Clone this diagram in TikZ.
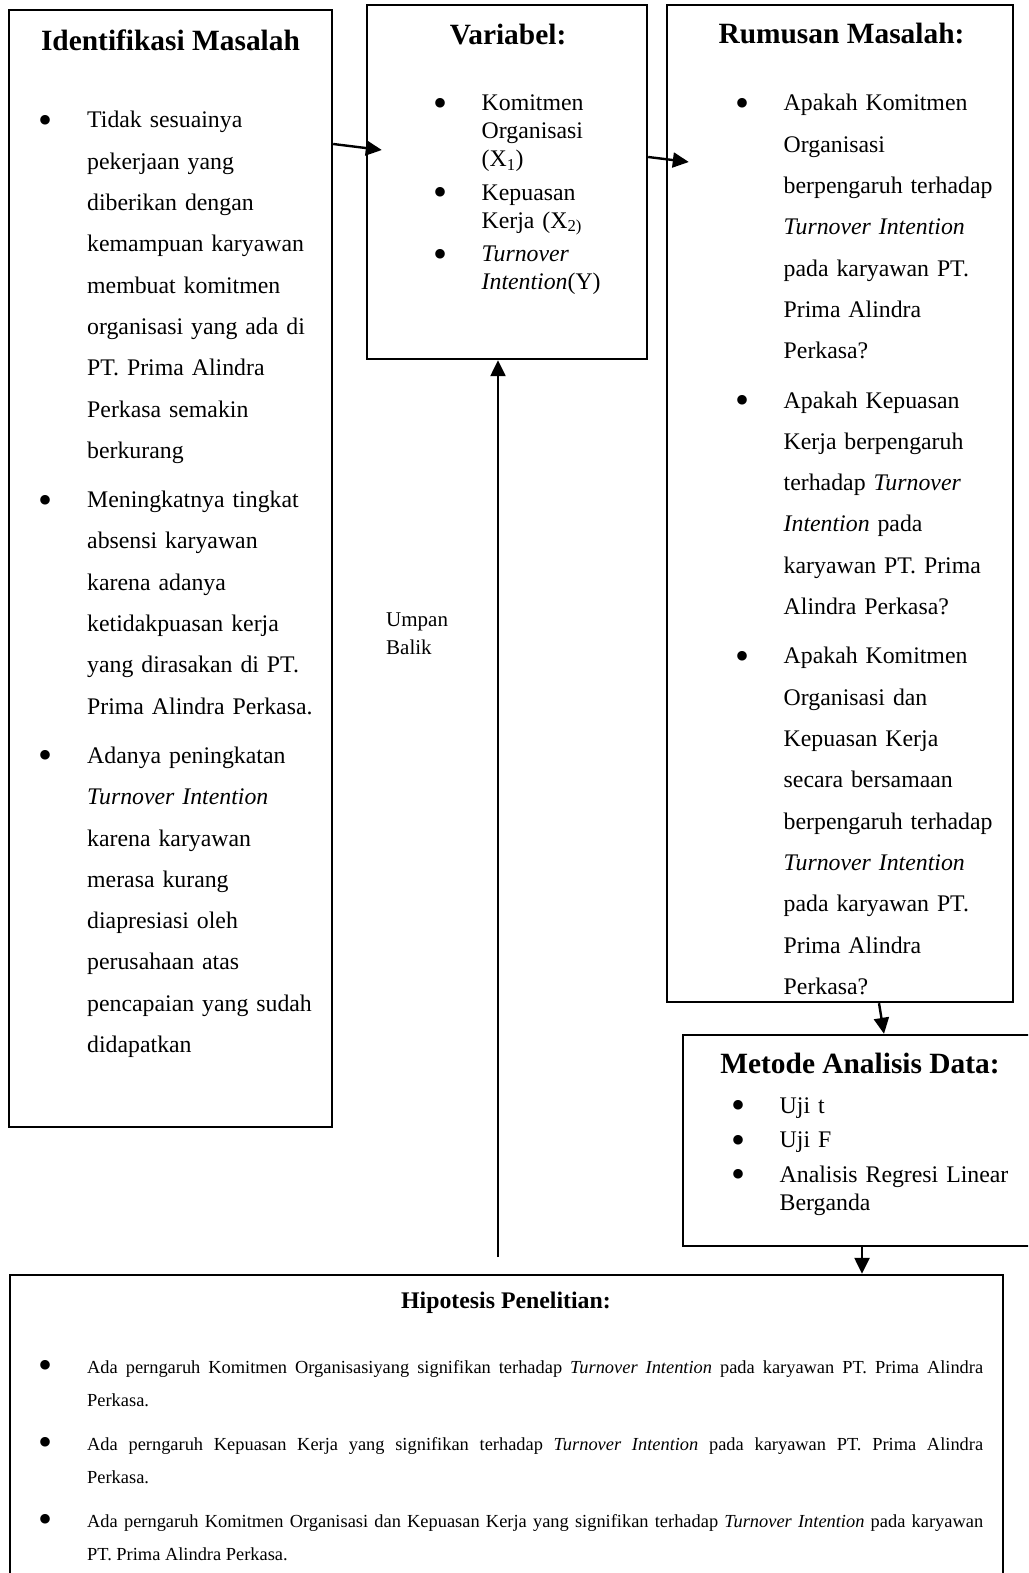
\documentclass[tikz,border=0pt]{standalone}
\usepackage{fontspec}
\setmainfont{Liberation Serif}
\usetikzlibrary{arrows.meta,calc,fit}

\newcommand{\bul}{\raisebox{-5.5pt}{\fontsize{40}{40}\selectfont\textbullet}}
\newcommand{\butir}[2]{\noindent\hangindent=#1\hangafter=1\makebox[#1][l]{\bul}\ignorespaces#2\par}

\tikzset{
  kotak/.style={draw,line width=2.4pt,inner sep=0pt},
  judul/.style={anchor=base,inner sep=0pt,font=\fontsize{29.4}{35}\selectfont\bfseries},
  daftar/.style={anchor=base west,inner sep=0pt,text width=#1,align=left},
  panah/.style={line width=2.4pt,->},
}

\begin{document}
\begin{tikzpicture}[x=1pt,y=-1pt,>={Triangle[length=16pt,width=15pt]}]
\clip (0,0) rectangle (1028,1573);

% judul
\node[judul] (judulidentifikasi) at (170.5,51) {Identifikasi Masalah};
\node[judul] (judulvariabel) at (508,45) {Variabel:};
\node[judul] (judulrumusan) at (841.5,44) {Rumusan Masalah:};
\node[judul] (judulmetode) at (860,1073) {Metode Analisis Data:};
\node[judul,font=\fontsize{23.8}{28}\selectfont\bfseries] (judulhipotesis) at (506,1308) {Hipotesis Penelitian:};

% isi
\node[daftar=300pt,font=\fontsize{23.8}{41.3}\selectfont] (isiidentifikasi) at (38.5,128) {\setlength\parskip{8pt}%
\butir{48.5pt}{Tidak sesuainya\newline pekerjaan yang\newline diberikan dengan\newline kemampuan karyawan\newline membuat komitmen\newline organisasi yang ada di\newline PT. Prima Alindra\newline Perkasa semakin\newline berkurang}
\butir{48.5pt}{Meningkatnya tingkat\newline absensi karyawan\newline karena adanya\newline ketidakpuasan kerja\newline yang dirasakan di PT.\newline Prima Alindra Perkasa.}
\butir{48.5pt}{Adanya peningkatan\newline \textit{Turnover Intention}\newline karena karyawan\newline merasa kurang\newline diapresiasi oleh\newline perusahaan atas\newline pencapaian yang sudah\newline didapatkan}};

\node[daftar=200pt,font=\fontsize{23.8}{27.8}\selectfont] (isivariabel) at (433.5,111) {\setlength\parskip{6pt}%
\butir{48pt}{Komitmen\newline Organisasi\newline (X\textsubscript{1})}
\butir{48pt}{Kepuasan\newline Kerja (X\textsubscript{2)}}
\butir{48pt}{\textit{Turnover}\newline \textit{Intention}(Y)}};

\node[daftar=280pt,font=\fontsize{23.8}{41.3}\selectfont] (isirumusan) at (735.5,111) {\setlength\parskip{8pt}%
\butir{48pt}{Apakah Komitmen\newline Organisasi\newline berpengaruh terhadap\newline \textit{Turnover Intention}\newline pada karyawan PT.\newline Prima Alindra\newline Perkasa?}
\butir{48pt}{Apakah Kepuasan\newline Kerja berpengaruh\newline terhadap \textit{Turnover}\newline \textit{Intention} pada\newline karyawan PT. Prima\newline Alindra Perkasa?}
\butir{48pt}{Apakah Komitmen\newline Organisasi dan\newline Kepuasan Kerja\newline secara bersamaan\newline berpengaruh terhadap\newline \textit{Turnover Intention}\newline pada karyawan PT.\newline Prima Alindra\newline Perkasa?}};

\node[daftar=290pt,font=\fontsize{23.8}{28}\selectfont] (isimetode) at (731,1113) {\setlength\parskip{6.5pt}%
\butir{48.5pt}{Uji t}
\butir{48.5pt}{Uji F}
\butir{48.5pt}{Analisis Regresi Linear\newline Berganda}};

\node[daftar=944.5pt,align=justify,font=\fontsize{18.4}{33}\selectfont] (isihipotesis) at (38.5,1373) {\setlength\parskip{11pt}%
\butir{48.5pt}{Ada perngaruh Komitmen Organisasiyang signifikan terhadap \textit{Turnover Intention} pada karyawan PT. Prima Alindra\linebreak Perkasa.}
\butir{48.5pt}{Ada perngaruh Kepuasan Kerja yang signifikan terhadap \textit{Turnover Intention} pada karyawan PT. Prima Alindra\linebreak Perkasa.}
\butir{48.5pt}{Ada perngaruh Komitmen Organisasi dan Kepuasan Kerja yang signifikan terhadap \textit{Turnover Intention} pada karyawan\linebreak PT. Prima Alindra Perkasa.}};

\node[daftar=90pt,font=\fontsize{21}{28}\selectfont] (umpan) at (386,626) {Umpan\newline Balik};

% kotak
\node[kotak,fit={(9,10) (332,1127)}] (identifikasi) {};
\node[kotak,fit={(367,5) (647,359)}] (variabel) {};
\node[kotak,fit={(667,5) (1013,1002)}] (rumusan) {};
\node[kotak,fit={(683,1035) (1045,1246)}] (metode) {};
\node[kotak,fit={(10,1275) (1003,1600)}] (hipotesis) {};

% panah
\coordinate (balik) at (498,1257);
\draw[panah] (identifikasi.east |- 0,144) -- ($(variabel.west |- 0,150)+(16,0)$);
\draw[panah] (variabel.east |- 0,157) -- ($(rumusan.west |- 0,162)+(23,0)$);
\draw[panah] (rumusan.south -| 879,0) -- (metode.north -| 884,0);
\draw[panah] (metode.south -| 862,0) -- (hipotesis.north -| 862,0);
\draw[panah] (balik) -- (balik |- variabel.south);

\end{tikzpicture}
\end{document}
